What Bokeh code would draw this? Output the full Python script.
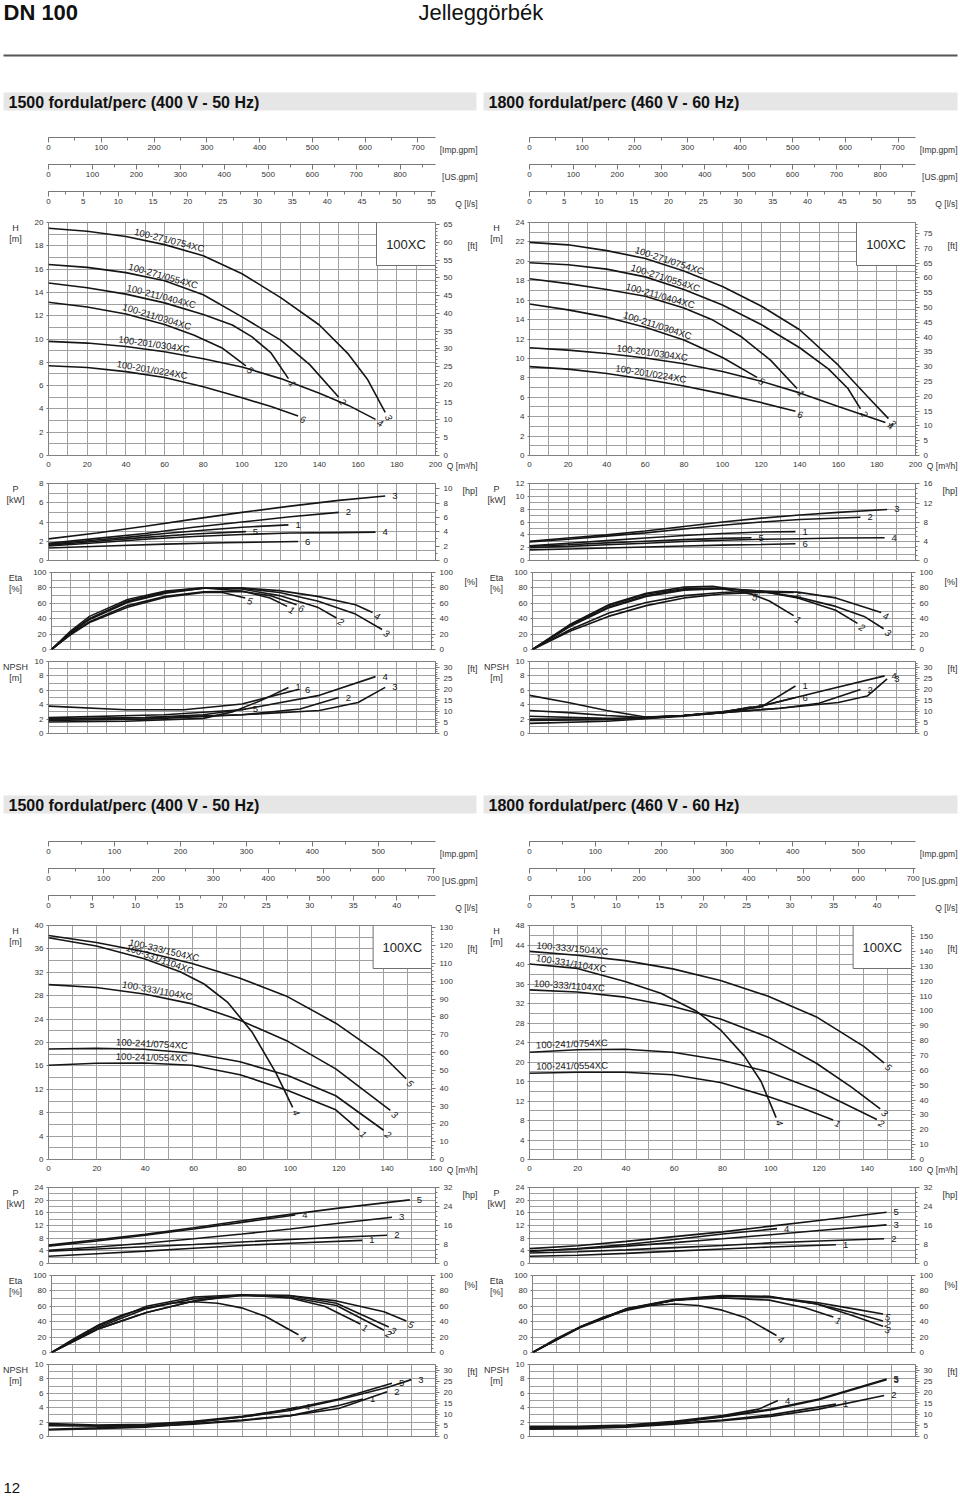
import numpy as np
from bokeh.plotting import figure
from bokeh.models import (Range1d, LinearAxis, FixedTicker, Grid, Label, BoxAnnotation,
                          Column, Row)
from bokeh.embed import file_html
from bokeh.resources import INLINE

FONT = "Liberation Sans"
INK = "#161616"
GRID = "#a0a0a0"
AXC = "#777777"
TXT = "#333333"

# unit conversions (from m3/h and m, kW)
IMP_PER_M3H = 3.66615
US_PER_M3H = 4.40287
LPS_PER_M3H = 1 / 3.6
FT_PER_M = 3.28084
HP_PER_KW = 1.34102

# ---------------- data ----------------
TOP_NAMES = {3: "100-271/0754XC", 2: "100-271/0554XC", 1: "100-211/0404XC",
             5: "100-211/0304XC", 4: "100-201/0304XC", 6: "100-201/0224XC"}
BOT_NAMES = {5: "100-333/1504XC", 4: "100-331/1104XC", 3: "100-333/1104XC",
             2: "100-241/0754XC", 1: "100-241/0554XC"}

# 1500 rpm, upper group  (Q m3/h, H m)
TL_H = {
    3: ([0, 20, 40, 60, 80, 100, 120, 140, 155, 165, 174], [19.5, 19.25, 18.8, 18.1, 17.15, 15.6, 13.55, 11.2, 8.7, 6.5, 3.7]),
    2: ([0, 20, 40, 60, 80, 100, 120, 135, 150], [16.4, 16.15, 15.7, 15.0, 13.8, 11.9, 9.9, 7.8, 5.0]),
    1: ([0, 20, 40, 60, 80, 95, 105, 115, 124], [14.8, 14.4, 13.85, 13.1, 12.1, 11.2, 10.2, 8.8, 6.6]),
    5: ([0, 20, 40, 60, 75, 90, 102], [13.15, 12.75, 12.15, 11.25, 10.35, 9.2, 7.7]),
    4: ([0, 20, 40, 60, 80, 100, 120, 140, 155, 169], [9.8, 9.65, 9.35, 8.9, 8.3, 7.6, 6.6, 5.35, 4.3, 3.1]),
    6: ([0, 20, 40, 60, 80, 100, 115, 129], [7.7, 7.55, 7.2, 6.7, 5.9, 4.95, 4.2, 3.4]),
}
TL_P = {
    3: ([0, 25, 50, 75, 100, 125, 150, 174], [2.25, 2.85, 3.55, 4.3, 5.0, 5.65, 6.25, 6.7]),
    2: ([0, 25, 50, 75, 100, 125, 150], [1.8, 2.3, 2.8, 3.45, 4.0, 4.55, 5.0]),
    1: ([0, 20, 40, 60, 80, 100, 124], [1.7, 2.05, 2.4, 2.8, 3.15, 3.45, 3.7]),
    5: ([0, 25, 50, 75, 102], [1.6, 2.0, 2.4, 2.75, 3.0]),
    4: ([0, 25, 50, 75, 100, 125, 150, 169], [1.5, 1.85, 2.2, 2.5, 2.7, 2.85, 2.9, 2.95]),
    6: ([0, 30, 60, 90, 129], [1.3, 1.5, 1.7, 1.85, 1.97]),
}
TL_E = {
    3: ([0, 10, 20, 40, 60, 80, 100, 120, 140, 160, 174], [0, 21, 39, 61, 73, 79.5, 79.5, 74, 63, 46, 26]),
    4: ([0, 10, 20, 40, 60, 80, 100, 120, 140, 160, 169], [0, 22, 40, 62, 74, 79.5, 80, 76.5, 69, 58, 48]),
    2: ([0, 10, 20, 40, 60, 80, 100, 120, 140, 150], [0, 22, 40, 63, 75, 80, 78.5, 70, 55, 41]),
    1: ([0, 10, 20, 40, 60, 80, 100, 115, 124], [0, 24, 43, 65, 76, 80, 76, 67, 56]),
    6: ([0, 10, 20, 40, 60, 80, 100, 115, 129], [0, 20, 36, 57, 69, 75, 75.5, 70, 58]),
    5: ([0, 10, 20, 40, 60, 80, 90, 102], [0, 19, 35, 55, 68, 74, 74, 67]),
}
TL_N = {
    1: ([0, 40, 80, 95, 110, 124], [1.6, 1.7, 2.1, 3.0, 4.6, 6.4]),
    2: ([0, 50, 100, 130, 150], [1.8, 2.0, 2.6, 3.4, 5.0]),
    3: ([0, 50, 100, 140, 160, 174], [2.0, 2.2, 2.6, 3.2, 4.3, 6.4]),
    4: ([0, 60, 100, 140, 169], [2.2, 2.6, 3.3, 5.3, 7.9]),
    5: ([0, 50, 80, 102], [2.0, 2.2, 2.6, 3.4]),
    6: ([0, 40, 70, 100, 129], [3.8, 3.3, 3.3, 4.1, 6.1]),
}
TL_LBL = {3: 43.8, 2: 40.7, 1: 39.8, 5: 37.6, 4: 35.8, 6: 34.8}

# 1800 rpm, upper group
TR_H = {
    3: ([0, 20, 40, 60, 80, 100, 120, 140, 160, 175, 186], [21.95, 21.7, 21.1, 20.3, 19.0, 17.4, 15.4, 12.95, 9.3, 6.1, 3.8]),
    2: ([0, 20, 40, 60, 80, 100, 120, 140, 155, 165, 171.5], [19.85, 19.65, 19.2, 18.4, 17.1, 15.5, 13.5, 11.1, 8.9, 6.9, 4.8]),
    1: ([0, 20, 40, 60, 80, 95, 110, 125, 138.6], [18.2, 17.7, 17.1, 16.4, 15.2, 13.95, 12.2, 9.8, 6.9]),
    5: ([0, 20, 40, 60, 80, 100, 117.9], [15.6, 15.0, 14.25, 13.2, 11.9, 10.1, 8.05]),
    4: ([0, 20, 40, 60, 80, 100, 120, 140, 160, 184.4], [11.1, 10.85, 10.5, 10.05, 9.45, 8.65, 7.65, 6.45, 5.05, 3.4]),
    6: ([0, 20, 40, 60, 80, 100, 120, 137.8], [9.15, 8.9, 8.45, 7.85, 7.15, 6.35, 5.45, 4.55]),
}
TR_P = {
    3: ([0, 20, 40, 60, 80, 100, 120, 140, 160, 185.3], [3.0, 3.5, 4.0, 4.6, 5.3, 6.0, 6.6, 7.1, 7.5, 7.95]),
    2: ([0, 20, 40, 60, 80, 100, 120, 140, 171.5], [2.9, 3.3, 3.8, 4.3, 4.9, 5.5, 6.0, 6.4, 6.75]),
    1: ([0, 20, 40, 60, 80, 100, 120, 137.8], [2.3, 2.7, 3.1, 3.5, 3.9, 4.2, 4.45, 4.5]),
    5: ([0, 20, 40, 60, 80, 100, 115], [2.2, 2.45, 2.75, 3.0, 3.25, 3.45, 3.55]),
    4: ([0, 20, 40, 60, 80, 100, 120, 140, 160, 184], [2.0, 2.2, 2.45, 2.7, 2.95, 3.15, 3.3, 3.4, 3.5, 3.55]),
    6: ([0, 20, 40, 60, 80, 100, 120, 137.8], [1.65, 1.8, 1.95, 2.1, 2.25, 2.4, 2.5, 2.6]),
}
TR_E = {
    1: ([0, 20, 40, 60, 80, 95, 110, 125, 137.8], [0, 33, 58, 73, 81, 82, 77, 63, 44]),
    5: ([0, 20, 40, 60, 80, 100, 115], [0, 32, 57, 72, 79, 79, 72]),
    2: ([0, 20, 40, 60, 80, 100, 120, 140, 160, 171.5], [0, 31, 55, 70, 78, 79.5, 76, 67, 51, 34]),
    3: ([0, 20, 40, 60, 80, 100, 120, 140, 160, 175, 185.3], [0, 30, 54, 69, 77, 79, 76, 68, 56, 43, 27]),
    4: ([0, 20, 40, 60, 80, 100, 120, 140, 160, 184], [0, 26, 47, 61, 70, 74, 76, 74.5, 67, 48]),
    6: ([0, 20, 40, 60, 80, 100, 120, 137.8], [0, 24, 43, 57, 67, 72, 74, 74]),
}
TR_N = {
    4: ([0, 20, 40, 60, 80, 100, 120, 150, 184], [5.3, 4.3, 3.2, 2.3, 2.5, 3.0, 3.8, 5.8, 8.0]),
    6: ([0, 20, 40, 60, 80, 100, 120, 137.8], [3.2, 2.9, 2.5, 2.2, 2.5, 3.0, 3.8, 5.0]),
    5: ([0, 40, 60, 80, 100, 115], [2.4, 2.1, 2.1, 2.5, 2.9, 3.7]),
    1: ([0, 40, 80, 100, 120, 137.8], [2.0, 2.0, 2.5, 2.9, 3.7, 6.6]),
    2: ([0, 40, 80, 100, 130, 150, 171.5], [1.8, 1.9, 2.5, 2.9, 3.5, 4.2, 6.1]),
    3: ([0, 40, 80, 100, 130, 160, 175, 185.3], [1.4, 1.7, 2.4, 2.9, 3.5, 4.3, 5.2, 7.6]),
}
TR_LBL = {3: 53.9, 2: 51.9, 1: 49.3, 5: 47.9, 4: 44.8, 6: 44.1}

# 1500 rpm, lower group
BL_H = {
    5: ([0, 20, 40, 60, 80, 100, 120, 140, 149.4], [38.3, 37.1, 35.5, 33.5, 31.0, 27.8, 23.3, 17.6, 13.8]),
    4: ([0, 20, 40, 55, 65, 75, 85, 95, 102], [37.9, 36.5, 34.3, 32.1, 30.0, 26.8, 21.8, 14.8, 8.9]),
    3: ([0, 20, 40, 60, 80, 100, 120, 142.8], [29.9, 29.4, 28.3, 26.6, 23.8, 20.2, 15.5, 8.4]),
    2: ([0, 20, 40, 60, 80, 100, 120, 140], [18.9, 19.0, 18.85, 18.2, 16.7, 14.35, 10.9, 5.0]),
    1: ([0, 20, 40, 60, 80, 100, 120, 129.7], [16.1, 16.45, 16.5, 16.1, 14.5, 11.8, 8.5, 5.07]),
}
BL_P = {
    5: ([0, 20, 40, 60, 80, 100, 120, 149.4], [5.8, 7.5, 9.2, 11.3, 13.5, 15.5, 17.5, 20.1]),
    4: ([0, 20, 40, 60, 80, 102], [5.5, 7.1, 8.9, 10.9, 13.0, 15.3]),
    3: ([0, 20, 40, 60, 80, 100, 120, 142], [4.2, 5.2, 6.4, 7.8, 9.3, 10.9, 12.7, 14.6]),
    2: ([0, 20, 40, 60, 80, 100, 120, 140], [3.9, 4.6, 5.3, 6.0, 6.8, 7.6, 8.3, 8.9]),
    1: ([0, 20, 40, 60, 80, 100, 129.7], [2.3, 3.1, 3.9, 4.8, 5.7, 6.4, 7.3]),
}
BL_E = {
    4: ([0, 10, 20, 30, 40, 50, 60, 70, 80, 90, 104], [0, 19, 36, 49, 58, 64, 66, 64, 58, 47, 23]),
    5: ([0, 20, 40, 60, 80, 100, 120, 140, 149.4], [0, 31, 52, 67, 74, 74, 67, 53, 41]),
    3: ([0, 20, 40, 60, 80, 100, 120, 142], [0, 31, 52, 67, 75, 74, 64, 33]),
    2: ([0, 20, 40, 60, 80, 100, 120, 140], [0, 33, 57, 70, 74, 72, 61, 29]),
    1: ([0, 20, 40, 60, 80, 100, 115, 130], [0, 35, 60, 72, 75, 71, 60, 37]),
}
BL_N = {
    5: ([0, 20, 40, 60, 80, 100, 120, 142], [1.8, 1.6, 1.7, 2.1, 2.8, 3.8, 5.2, 7.4]),
    3: ([0, 20, 40, 60, 80, 100, 120, 140, 150], [1.0, 1.2, 1.5, 2.0, 2.7, 3.6, 5.1, 6.8, 7.9]),
    4: ([0, 20, 40, 60, 80, 95, 103], [1.7, 1.5, 1.6, 2.0, 2.7, 3.5, 4.1]),
    2: ([0, 20, 40, 60, 80, 100, 120, 140], [0.9, 1.1, 1.3, 1.8, 2.3, 2.9, 3.9, 6.2]),
    1: ([0, 40, 60, 80, 100, 120, 130], [1.5, 1.4, 1.7, 2.2, 2.9, 4.3, 5.2]),
}
BL_LBL = {5: 33.2, 4: 31.8, 3: 30.5, 2: 28.1, 1: 28.1}

# 1800 rpm, lower group
BR_H = {
    5: ([0, 20, 40, 60, 80, 100, 120, 140, 148.5], [42.7, 41.9, 40.8, 39.1, 36.7, 33.5, 29.3, 23.2, 19.8]),
    4: ([0, 20, 40, 55, 70, 80, 90, 97, 103.3], [40.1, 39.2, 36.5, 34.1, 30.4, 26.6, 21.2, 16.0, 8.6]),
    3: ([0, 20, 40, 60, 80, 100, 120, 135, 146.9], [34.8, 34.35, 33.3, 31.4, 28.8, 25.1, 19.8, 14.8, 10.4]),
    2: ([0, 20, 40, 60, 80, 100, 120, 135, 145.5], [22.0, 22.5, 22.6, 22.0, 20.4, 18.0, 14.3, 10.7, 8.2]),
    1: ([0, 20, 40, 60, 80, 100, 115, 127.2], [17.7, 17.9, 17.9, 17.4, 15.8, 12.9, 10.4, 8.1]),
}
BR_P = {
    5: ([0, 20, 40, 60, 80, 100, 120, 148], [4.7, 5.6, 7.0, 8.5, 10.0, 11.8, 13.6, 16.2]),
    3: ([0, 20, 40, 60, 80, 100, 120, 148], [4.0, 4.6, 5.5, 6.6, 7.8, 9.1, 10.4, 12.2]),
    4: ([0, 20, 40, 60, 80, 102.6], [3.8, 4.7, 6.0, 7.6, 9.3, 11.0]),
    2: ([0, 20, 40, 60, 80, 100, 120, 147], [3.3, 3.7, 4.3, 5.0, 5.7, 6.5, 7.1, 7.8]),
    1: ([0, 20, 40, 60, 80, 100, 127], [2.3, 2.6, 3.2, 3.9, 4.6, 5.2, 5.9]),
}
BR_E = {
    4: ([0, 10, 20, 30, 40, 50, 60, 70, 80, 90, 103], [0, 18, 33, 46, 55, 61, 63, 61, 55, 45, 22]),
    5: ([0, 20, 40, 60, 80, 100, 120, 135, 148], [0, 33, 56, 68, 73, 72, 65, 57, 50]),
    3: ([0, 20, 40, 60, 80, 100, 120, 135, 148], [0, 33, 57, 69, 74, 73, 63, 48, 34]),
    2: ([0, 20, 40, 60, 80, 100, 120, 135, 148], [0, 32, 56, 68, 73, 72, 63, 52, 41]),
    1: ([0, 20, 40, 60, 80, 100, 115, 127], [0, 33, 57, 68, 71, 68, 58, 46]),
}
BR_N = {
    5: ([0, 20, 40, 60, 80, 100, 120, 148], [1.3, 1.3, 1.5, 2.0, 2.8, 3.8, 5.2, 8.0]),
    3: ([0, 20, 40, 60, 80, 100, 120, 148], [1.1, 1.2, 1.4, 1.9, 2.7, 3.7, 5.1, 7.9]),
    4: ([0, 20, 40, 60, 80, 95, 103], [1.4, 1.4, 1.6, 2.1, 2.9, 3.8, 5.0]),
    2: ([0, 20, 40, 60, 80, 100, 120, 147], [1.0, 1.1, 1.3, 1.7, 2.2, 2.8, 3.8, 5.7]),
    1: ([0, 40, 60, 80, 100, 127], [1.2, 1.4, 1.8, 2.3, 3.0, 4.5]),
}
BR_LBL = {5: 2.8, 4: 2.4, 3: 1.7, 2: 2.8, 1: 2.8}

TITLE_LEFT = "1500 fordulat/perc (400 V - 50 Hz)"
TITLE_RIGHT = "1800 fordulat/perc (460 V - 60 Hz)"

# ---------------- layout helpers ----------------
# gl: left gutter, lb/rb: chart borders, fw: frame width, gr: right gutter
LEFT = dict(gl=30, lb=18, fw=387, rb=20, gr=25, lx=15)
RIGHT = dict(gl=31, lb=18, fw=386, rb=20, gr=25, lx=16)
for _c in (LEFT, RIGHT):
    _c["ux"] = min(42, _c["rb"] + _c["gr"] - 1)   # right edge of unit labels, from frame right
    _c["W"] = _c["gl"] + _c["lb"] + _c["fw"] + _c["rb"] + _c["gr"]
PAGE_W = LEFT["W"] + RIGHT["W"]


def style_axis(ax, size="8px"):
    ax.major_label_text_font = FONT
    ax.major_label_text_font_size = size
    ax.major_label_text_color = TXT
    ax.axis_line_color = AXC
    ax.major_tick_line_color = AXC
    ax.minor_tick_line_color = AXC
    ax.major_tick_in = 0
    ax.minor_tick_in = 0


def txt(p, x, y, text, xo=0, yo=0, size="9px", align="left", base="middle", style="normal",
        angle=0.0, color=TXT):
    p.add_layout(Label(x=x, y=y, text=text, x_offset=xo, y_offset=yo, text_font=FONT,
                       text_font_size=size, text_align=align, text_baseline=base,
                       text_font_style=style, angle=angle, text_color=color))


def base_fig(width, height, xr, yr, lb=0, rb=0, top=0, bottom=0, xloc=None, yloc=None,
             outline=None):
    p = figure(width=width, height=height, x_range=xr, y_range=yr,
               min_border_left=lb, min_border_right=rb, min_border_top=top,
               min_border_bottom=bottom, toolbar_location=None, tools="", output_backend="svg",
               x_axis_location=xloc, y_axis_location=yloc, outline_line_color=outline,
               border_fill_color="white", background_fill_color="white")
    for g in p.grid:
        g.visible = False
    return p


def blank(width, height):
    return base_fig(width, height, Range1d(0, width), Range1d(0, height))


PAD = 10  # frame of the scale strips starts this many px left of the zero tick


def scale_fig(cfg, end, h):
    lb = cfg["gl"] + cfg["lb"]
    px = end / cfg["fw"]
    fwe = cfg["W"] - lb + PAD
    p = base_fig(cfg["W"], h, Range1d(-PAD * px, (fwe - PAD) * px), Range1d(0, h),
                 lb=lb - PAD, xloc="below")
    return p, px


def make_strip(cfg, qmax, conv, step, minor, unit, h=27):
    """secondary flow-rate scale: axis line 1px below the top, labels beneath it"""
    end = qmax * conv
    p, px = scale_fig(cfg, end, h)
    ax = p.xaxis[0]
    ax.fixed_location = h - 1
    ax.bounds = (0, end)
    ax.ticker = FixedTicker(ticks=[float(t) for t in np.arange(0, end + 1e-9, step)],
                            minor_ticks=[float(t) for t in np.arange(0, end + 1e-9, minor)])
    style_axis(ax)
    ax.major_tick_out = 5
    ax.minor_tick_out = 3
    ax.major_label_standoff = 2
    txt(p, (cfg["fw"] + cfg["ux"]) * px, h - 13, unit, align="right", size="8.5px")
    return p


def make_xstrip(cfg, qmax, h=15):
    p, px = scale_fig(cfg, qmax, h)
    ax = p.xaxis[0]
    ax.fixed_location = h
    ax.bounds = (0, qmax)
    ax.ticker = FixedTicker(ticks=[float(t) for t in np.arange(0, qmax + 1e-9, 20)])
    style_axis(ax)
    ax.axis_line_color = None
    ax.major_tick_out = 0
    ax.minor_tick_out = 0
    ax.major_label_standoff = 1
    txt(p, (cfg["fw"] + cfg["ux"]) * px, h - 5, "Q [m³/h]", align="right", size="8.5px")
    return p


def gutter(width, top, fh, bottom, items):
    p = base_fig(width, top + fh + bottom, Range1d(0, width), Range1d(0, fh), top=top,
                 bottom=bottom)
    for (x, dy, text, align) in items:
        txt(p, x, fh - dy, text, align=align, size="9px")
    return p


def add_names(p, curves, names, starts, sx, sy):
    for k, name in names.items():
        q, v = curves[k]
        q0 = starts[k]
        dq = 70.0 / sx
        h0 = float(np.interp(q0, q, v))
        h1 = float(np.interp(q0 + dq, q, v))
        ang = float(np.arctan2((h1 - h0) * sy, dq * sx))
        txt(p, q0, h0, name, yo=1.5, size="9.5px", base="bottom", angle=ang, color=INK)


def add_ends(p, curves, sx, sy, mode):
    for k, (q, v) in curves.items():
        if mode == "rot":
            ang = float(np.arctan2((v[-1] - v[-2]) * sy, (q[-1] - q[-2]) * sx))
            txt(p, q[-1], v[-1], str(k), xo=2, yo=-3, size="9.5px", style="italic",
                angle=ang, color=INK)
        else:
            txt(p, q[-1], v[-1], str(k), xo=7, yo=0, size="9.5px", color=INK)


def make_chart(cfg, qmax, ymax, ytick, ygrid, rconv, rstep, rminor, top, fh, bottom,
               curves, left_lbl, right_lbl, right_dy, names=None, starts=None,
               end_mode="rot", box=False):
    fw = cfg["fw"]
    sx, sy = fw / qmax, fh / ymax
    p = base_fig(cfg["lb"] + fw + cfg["rb"], top + fh + bottom, Range1d(0, qmax),
                 Range1d(0, ymax), lb=cfg["lb"], rb=cfg["rb"], top=top, bottom=bottom,
                 yloc="left", outline="#808080")
    p.add_layout(Grid(dimension=0, ticker=FixedTicker(ticks=[float(t) for t in np.arange(0, qmax + 1e-9, 10)]),
                      grid_line_color=GRID, grid_line_width=1))
    p.add_layout(Grid(dimension=1, ticker=FixedTicker(ticks=[float(t) for t in np.arange(0, ymax + 1e-9, ygrid)]),
                      grid_line_color=GRID, grid_line_width=1))
    ay = p.yaxis[0]
    ay.ticker = FixedTicker(ticks=[float(t) for t in np.arange(0, ymax + 1e-9, ytick)])
    style_axis(ay)
    ay.axis_line_color = None
    ay.major_tick_out = 2
    ay.minor_tick_out = 0
    ay.major_label_standoff = 3

    rmax = ymax * rconv
    p.extra_y_ranges = {"r": Range1d(0, rmax)}
    ar = LinearAxis(y_range_name="r",
                    ticker=FixedTicker(ticks=[float(t) for t in np.arange(0, rmax + 1e-9, rstep)],
                                       minor_ticks=[float(t) for t in np.arange(0, rmax + 1e-9, rminor)]))
    style_axis(ar)
    ar.major_tick_out = 4
    ar.minor_tick_out = 2
    ar.major_label_standoff = 4
    p.add_layout(ar, "right")

    for k, (q, v) in curves.items():
        p.line(q, v, line_color=INK, line_width=1.6)

    if names:
        add_names(p, curves, names, starts, sx, sy)
    add_ends(p, curves, sx, sy, end_mode)

    if box:
        bl = qmax - 59.0 / sx
        bb = ymax - 43.0 / sy
        p.add_layout(BoxAnnotation(left=bl, right=qmax, bottom=bb, top=ymax, fill_color="white",
                                   fill_alpha=1.0, line_color="#707070", line_alpha=1.0, line_width=1))
        txt(p, (bl + qmax) / 2, (bb + ymax) / 2, "100XC", size="13px", align="center", color="#222222")

    gl = gutter(cfg["gl"], top, fh, bottom, [(cfg["lx"], 5, left_lbl[0], "center"),
                                             (cfg["lx"], 16, left_lbl[1], "center")])
    gr = gutter(cfg["gr"], top, fh, bottom, [(cfg["ux"] - cfg["rb"], right_dy, right_lbl, "right")])
    return Row(children=[gl, p, gr], spacing=0)


def build_panel(cfg, qmax, half, H, P, E, N, names, starts, hcfg, pcfg):
    strips = [make_strip(cfg, qmax, IMP_PER_M3H, 100, 50, "[Imp.gpm]"),
              make_strip(cfg, qmax, US_PER_M3H, 100, 50, "[US.gpm]"),
              make_strip(cfg, qmax, LPS_PER_M3H, 5, 2.5, "Q [l/s]")]
    if half == "top":
        dims = [(5, 233, 5), (8, 77, 4), (8, 77, 4), (8, 72, 15)]
    else:
        dims = [(4, 234, 5), (8, 76, 4), (8, 77, 4), (8, 72, 10)]
    hy, ht, hg, fstep, fminor = hcfg
    py, pt, pg, hpstep, hpminor = pcfg
    ph = make_chart(cfg, qmax, hy, ht, hg, FT_PER_M, fstep, fminor, *dims[0], H,
                    ("H", "[m]"), "[ft]", 23, names=names, starts=starts,
                    end_mode="rot", box=True)
    xs = make_xstrip(cfg, qmax)
    pp = make_chart(cfg, qmax, py, pt, pg, HP_PER_KW, hpstep, hpminor, *dims[1], P,
                    ("P", "[kW]"), "[hp]", 7, end_mode="flat")
    pe = make_chart(cfg, qmax, 100, 20, 10, 1.0, 20, 5, *dims[2], E,
                    ("Eta", "[%]"), "[%]", 9, end_mode="rot")
    pn = make_chart(cfg, qmax, 10, 2, 1, FT_PER_M, 5, 1, *dims[3], N,
                    ("NPSH", "[m]"), "[ft]", 7, end_mode="flat")
    return Column(children=strips + [ph, xs, pp, pe, pn], spacing=0)


def band(p, h, y0):
    p.add_layout(BoxAnnotation(left=3, right=476, bottom=h - y0 - 18, top=h - y0,
                               fill_color="#e6e6e6", fill_alpha=1, line_alpha=0))
    p.add_layout(BoxAnnotation(left=483, right=957, bottom=h - y0 - 18, top=h - y0,
                               fill_color="#e6e6e6", fill_alpha=1, line_alpha=0))
    txt(p, 8, h - y0 - 9.5, TITLE_LEFT, size="16px", style="bold", color="#111111")
    txt(p, 488, h - y0 - 9.5, TITLE_RIGHT, size="16px", style="bold", color="#111111")


header = blank(PAGE_W, 136)
txt(header, 3, 137, "DN 100", size="22px", style="bold", base="top", color="#111111")
txt(header, 418, 137, "Jelleggörbék", size="22px", base="top", color="#111111")
header.add_layout(BoxAnnotation(left=3, right=957, bottom=136 - 56, top=136 - 54,
                                fill_color="#555555", fill_alpha=1, line_alpha=0))
band(header, 136, 92)

tl = build_panel(LEFT, 200, "top", TL_H, TL_P, TL_E, TL_N, TOP_NAMES, TL_LBL,
                 (20, 2, 1, 5, 1), (8, 2, 1, 2, 1))
tr = build_panel(RIGHT, 200, "top", TR_H, TR_P, TR_E, TR_N, TOP_NAMES, TR_LBL,
                 (24, 2, 1, 5, 1), (12, 2, 1, 4, 1))
mid = blank(PAGE_W, 92)
band(mid, 92, 47)
bl = build_panel(LEFT, 160, "bot", BL_H, BL_P, BL_E, BL_N, BOT_NAMES, BL_LBL,
                 (40, 4, 2, 10, 2), (24, 4, 2, 8, 2))
br = build_panel(RIGHT, 160, "bot", BR_H, BR_P, BR_E, BR_N, BOT_NAMES, BR_LBL,
                 (48, 4, 2, 10, 2), (24, 4, 2, 8, 2))
foot = blank(PAGE_W, 50)
txt(foot, 3, 4, "12", size="15px", base="bottom", color="#111111")

root = Column(children=[header, Row(children=[tl, tr], spacing=0), mid,
                        Row(children=[bl, br], spacing=0), foot], spacing=0)

open("out.html", "w").write(file_html(root, INLINE, "DN 100"))
